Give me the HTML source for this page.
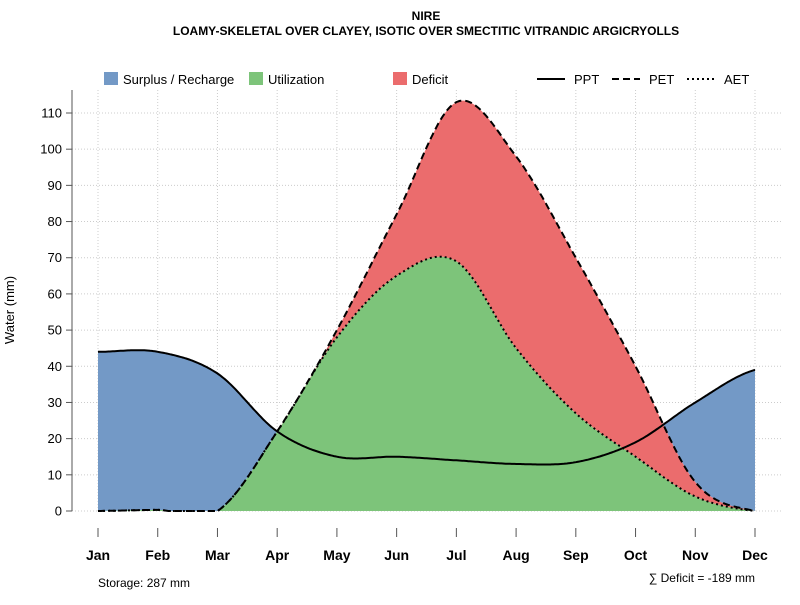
<!DOCTYPE html>
<html><head><meta charset="utf-8"><style>
body{margin:0;background:#fff;width:800px;height:600px;overflow:hidden}
svg text{font-family:"Liberation Sans",sans-serif}
</style></head><body>
<svg id="chart" width="800" height="600" xmlns="http://www.w3.org/2000/svg">
<text x="426" y="20" text-anchor="middle" font-size="12" font-weight="bold">NIRE</text>
<text x="426" y="35" text-anchor="middle" font-size="12" font-weight="bold">LOAMY-SKELETAL OVER CLAYEY, ISOTIC OVER SMECTITIC VITRANDIC ARGICRYOLLS</text>
<g id="grid"></g>
<g id="areas"></g>
<g id="lines"></g>
<g id="axes"></g>
<g font-size="13">
<rect x="104" y="72" width="14" height="13" fill="#7399c6"/>
<text x="123" y="84">Surplus / Recharge</text>
<rect x="249" y="72" width="14" height="13" fill="#7dc47a"/>
<text x="268" y="84">Utilization</text>
<rect x="393" y="72" width="14" height="13" fill="#eb6c6d"/>
<text x="412" y="84">Deficit</text>
<line x1="537" y1="79" x2="565" y2="79" stroke="#000" stroke-width="2"/>
<text x="574" y="84">PPT</text>
<line x1="612" y1="79" x2="640" y2="79" stroke="#000" stroke-width="2" stroke-dasharray="7,4"/>
<text x="649" y="84">PET</text>
<line x1="687" y1="79" x2="715" y2="79" stroke="#000" stroke-width="2" stroke-dasharray="2,3"/>
<text x="724" y="84">AET</text>
</g>
<text transform="translate(14,310) rotate(-90)" text-anchor="middle" font-size="13">Water (mm)</text>
<text x="98" y="587" font-size="12">Storage: 287 mm</text>
<text x="755" y="582" text-anchor="end" font-size="12">∑ Deficit = -189 mm</text>
</svg>
<script>
const months=["Jan","Feb","Mar","Apr","May","Jun","Jul","Aug","Sep","Oct","Nov","Dec"];
const ppt=[44,44,38,22,15,15,14,13,13.5,19,30,39];
const pet=[0,0.3,0,22,50,82,113,98,70,40,8,0];
const aet=[0,0.3,0,22,48,65,69,45,27,15,4,0];
const yTicks=[0,10,20,30,40,50,60,70,80,90,100,110];
const NS="http://www.w3.org/2000/svg";
const X=i=>98+i*(755-98)/11, Y=v=>511-v*(511-113)/110;
function mk(t,a,p){const e=document.createElementNS(NS,t);for(const k in a)e.setAttribute(k,a[k]);p.appendChild(e);return e;}
function spl(arr,t){const n=arr.length;let i=Math.min(Math.floor(t),n-2);const u=t-i;
const p0=arr[Math.max(i-1,0)],p1=arr[i],p2=arr[i+1],p3=arr[Math.min(i+2,n-1)];
return 0.5*((2*p1)+(-p0+p2)*u+(2*p0-5*p1+4*p2-p3)*u*u+(-p0+3*p1-3*p2+p3)*u*u*u);}
const N=440,ts=[];for(let k=0;k<=N;k++)ts.push(k*11/N);
const sP=ts.map(t=>spl(ppt,t)),sE=ts.map(t=>Math.max(0,spl(pet,t))),sA=ts.map((t,k)=>Math.max(0,Math.min(spl(aet,t),sE[k])));
const grid=document.getElementById('grid'),areas=document.getElementById('areas'),lines=document.getElementById('lines'),axes=document.getElementById('axes');
yTicks.forEach(v=>{const l=mk('line',{x1:72,x2:782,y1:Y(v),y2:Y(v),stroke:'#ccc','stroke-dasharray':'1,2'},grid);});
months.forEach((m,i)=>{const l=mk('line',{x1:X(i),x2:X(i),y1:90,y2:511,stroke:'#ccc','stroke-dasharray':'1,2'},grid);});
function band(up,lo,fill,name){let d='M';ts.forEach((t,k)=>d+=X(t).toFixed(1)+','+Y(up[k]).toFixed(1)+' L');
for(let k=N;k>=0;k--)d+=X(ts[k]).toFixed(1)+','+Y(lo[k]).toFixed(1)+(k?' L':' Z');
const p=mk('path',{d:d,fill:fill},areas);}
band(sP.map((v,k)=>Math.max(v,sE[k])),sE,'#7399c6','surplus-area');
band(sA,sA.map(()=>0),'#7dc47a','utilization-area');
band(sE,sA,'#eb6c6d','deficit-area');
function line(s,dash,name){const d='M'+ts.map((t,k)=>X(t).toFixed(1)+','+Y(s[k]).toFixed(1)).join(' L');
const p=mk('path',{d:d,fill:'none',stroke:'#000','stroke-width':2,'stroke-dasharray':dash},lines);}
line(sA,'2,3','aet-line');line(sE,'7,4','pet-line');line(sP,'none','ppt-line');
const ax=mk('line',{x1:72,x2:72,y1:90,y2:511,stroke:'#555'},axes);
yTicks.forEach(v=>{const t=mk('line',{x1:66,x2:72,y1:Y(v),y2:Y(v),stroke:'#555'},axes);
const tx=mk('text',{x:62,y:Y(v)+4.5,'text-anchor':'end','font-size':13},axes);tx.textContent=v;});
months.forEach((m,i)=>{const t=mk('line',{x1:X(i),x2:X(i),y1:528,y2:537,stroke:'#555'},axes);
const tx=mk('text',{x:X(i),y:560,'text-anchor':'middle','font-size':14,'font-weight':'bold'},axes);tx.textContent=m;});
</script>
</body></html>
